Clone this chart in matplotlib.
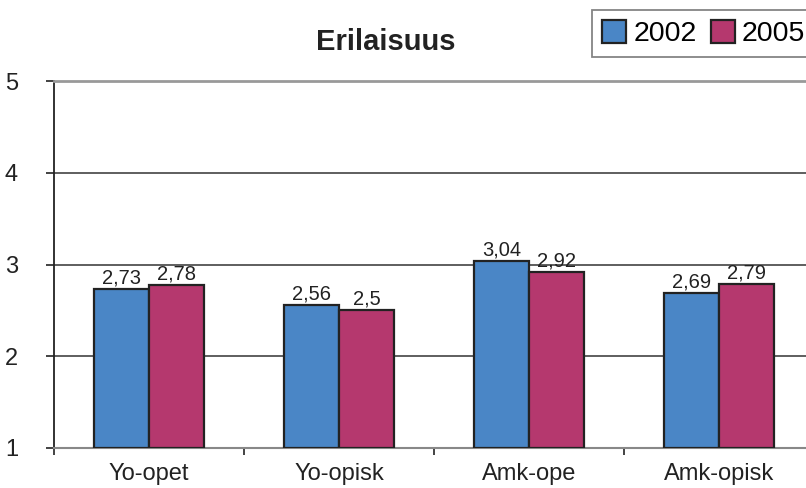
import matplotlib
matplotlib.use("Agg")
import matplotlib.pyplot as plt
import numpy as np

categories = ["Yo-opet", "Yo-opisk", "Amk-ope", "Amk-opisk"]
series_names = ["2002", "2005"]
values_2002 = [2.73, 2.56, 3.04, 2.69]
values_2005 = [2.78, 2.5, 2.92, 2.79]
colors = ["#4A86C6", "#B5386E"]

plt.rcParams["font.family"] = ["Liberation Sans", "DejaVu Sans"]

fig = plt.figure(figsize=(8.06, 4.88), dpi=100)
W, H = 806, 488
ax = fig.add_axes([54 / W, 40 / H, 760 / W, (448 - 81) / H])

x = np.arange(len(categories))
bw = 0.29
bars1 = ax.bar(x - bw / 2, np.array(values_2002) - 1, bw, bottom=1, color=colors[0],
               edgecolor="#222222", linewidth=1.6, label=series_names[0], zorder=3)
bars2 = ax.bar(x + bw / 2, np.array(values_2005) - 1, bw, bottom=1, color=colors[1],
               edgecolor="#222222", linewidth=1.6, label=series_names[1], zorder=3)

for bars, vals in ((bars1, values_2002), (bars2, values_2005)):
    for b, v in zip(bars, vals):
        ax.annotate(f"{v:g}".replace(".", ","), (b.get_x() + b.get_width() / 2, v),
                    xytext=(0, 1), textcoords="offset points", ha="center", va="bottom",
                    fontsize=14.5, color="#222222", zorder=4)

ax.set_xlim(-0.5, len(categories) - 0.5)
ax.set_ylim(1, 5)
ax.set_yticks([1, 2, 3, 4, 5])
ax.set_yticklabels(["1", "2", "3", "4", "5"], fontsize=17, color="#222222")
for yv in [2, 3, 4]:
    ax.axhline(yv, color="#333333", linewidth=1.1, zorder=1)

ax.set_xticks(np.arange(len(categories) + 1) - 0.5)
ax.set_xticklabels([])
ax.set_xticks(x, minor=True)
ax.set_xticklabels(categories, minor=True, fontsize=17, color="#222222")
ax.tick_params(axis="x", which="minor", length=0, pad=11)
ax.tick_params(axis="x", which="major", length=5, width=1.2, color="#222222", direction="out")
ax.tick_params(axis="y", length=6, width=1.2, color="#222222", direction="out", pad=20)

ax.spines["left"].set_color("#222222")
ax.spines["left"].set_linewidth(1.3)
ax.spines["bottom"].set_color("#888888")
ax.spines["bottom"].set_linewidth(1.5)
ax.spines["top"].set_color("#999999")
ax.spines["top"].set_linewidth(2)
ax.spines["right"].set_visible(False)

fig.text(386 / W, 1 - 42 / H, "Erilaisuus", ha="center", va="center",
         fontsize=21, fontweight="bold", color="#222222")

leg = fig.legend(handles=[bars1, bars2], labels=series_names, loc="upper left",
                 bbox_to_anchor=(592 / W, 1 - 10 / H), ncol=2, fontsize=20.5,
                 frameon=True, fancybox=False, edgecolor="#666666",
                 handlelength=0.85, handleheight=0.85, handletextpad=0.25,
                 columnspacing=0.5, borderpad=0.35, borderaxespad=0)
leg.get_frame().set_linewidth(1.3)

fig.savefig("out.png", dpi=100)
